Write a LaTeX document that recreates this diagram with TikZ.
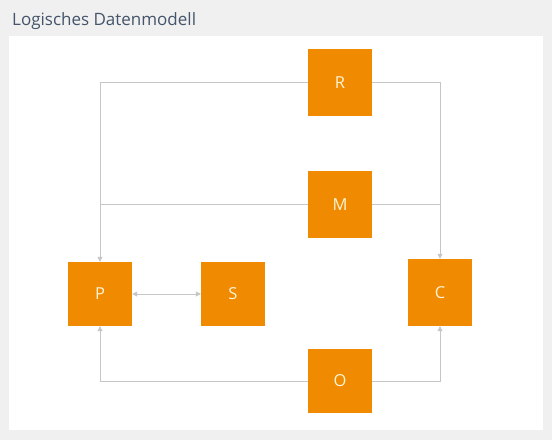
\documentclass[tikz,border=0pt]{standalone}
\usepackage{fontspec}
\setmainfont{Open Sans}
\usetikzlibrary{arrows.meta}
\definecolor{bgray}{HTML}{F0F0F0}
\definecolor{orng}{HTML}{F08A00}
\definecolor{lgray}{HTML}{C6C6C6}
\definecolor{ttl}{HTML}{44546A}
\definecolor{lbl}{HTML}{FFF4D6}
\tikzset{
  ent/.style={fill=orng, draw=none, minimum width=64pt, minimum height=65pt, inner sep=0pt, text=lbl, font=\fontsize{16.5}{18}\selectfont},
  conn/.style={draw=lgray, line width=0.8pt},
  tip/.style={-{Triangle[length=5pt,width=5pt]}},
  dtip/.style={{Triangle[length=5pt,width=5pt]}-{Triangle[length=5pt,width=5pt]}}
}
\begin{document}
\begin{tikzpicture}[x=1pt,y=-1pt]
\useasboundingbox (0,0) rectangle (552,440);
\fill[bgray] (0,0) rectangle (552,440);
\fill[white] (9,36) rectangle (543,430);
\node[anchor=base west, text=ttl, font=\fontsize{17}{20}\selectfont, inner sep=0pt] (title) at (12,25.5) {Logisches Datenmodell};
\node[ent, minimum height=67pt] (R) at (340,82.5) {R};
\node[ent, minimum height=67pt] (M) at (340,204.5) {M};
\node[ent, minimum height=64pt] (P) at (100,294) {P};
\node[ent, minimum height=64pt] (S) at (233,294) {S};
\node[ent, minimum height=67pt] (C) at (440,292.5) {C};
\node[ent, minimum height=64pt] (O) at (340,381) {O};
\draw[conn, tip] (R.west) -| (P.north);
\draw[conn, tip] (R.east) -| (C.north);
\draw[conn] (M.west) -| (P.north |- 0,230);
\draw[conn] (M.east) -| (C.north |- 0,230);
\draw[conn, tip] (O.west) -| (P.south);
\draw[conn, tip] (O.east) -| (C.south);
\draw[conn, dtip] (P.east) -- (S.west);
\end{tikzpicture}
\end{document}
